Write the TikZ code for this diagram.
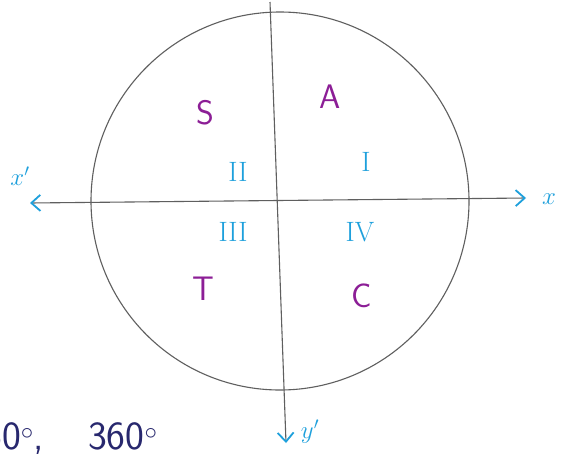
\documentclass[tikz,border=0pt]{standalone}
\usepackage{fontspec}
\usetikzlibrary{arrows.meta}
\definecolor{penblue}{RGB}{30,160,220}
\definecolor{penpurple}{RGB}{140,30,150}
\definecolor{pennavy}{RGB}{40,40,110}
\definecolor{pencil}{RGB}{95,95,95}
\tikzset{
  quad/.style={text=penblue, font=\fontsize{28}{30}\selectfont},
  sign/.style={text=penpurple, font=\sffamily\fontsize{34}{36}\selectfont},
  axlbl/.style={text=penblue, font=\fontsize{26}{28}\selectfont},
  penbarb/.tip={Straight Barb[color=penblue,length=9pt,width=16pt,line width=1.8pt]}
}
\begin{document}
\begin{tikzpicture}[x=1pt,y=-1pt]
\useasboundingbox (0,0) rectangle (569,463);
\clip (0,0) rectangle (569,463);
\fill [white] (0,0) rectangle (569,463);
% circle and axes
\coordinate (O) at (280,201);
\draw [pencil, line width=1.1pt] (O) circle [radius=189pt];
\coordinate (xl) at (30,203);
\coordinate (xr) at (526,198);
\coordinate (yt) at (270,2);
\coordinate (yb) at (286,443);
\draw [pencil, line width=1.1pt, penbarb-penbarb] (xl) -- (xr);
\draw [pencil, line width=1.1pt, -penbarb] (yt) -- (yb);
% axis labels
\node [axlbl] (xp) at (20,176) {$x'$};
\node [axlbl] (xx) at (549,199) {$x$};
\node [axlbl] (yp) at (310,432) {$y'$};
% quadrants
\node [quad] (q1) at (366,162) {I};
\node [quad] (q2) at (238,172) {II};
\node [quad] (q3) at (233,232) {III};
\node [quad] (q4) at (360,232) {IV};
\node [sign] (sA) at (330,97) {A};
\node [sign] (sS) at (205,113) {S};
\node [sign] (sT) at (203,289) {T};
\node [sign] (sC) at (362,296) {C};
% angles, cut at the left edge as in the scan
\node [text=pennavy, font=\sffamily\fontsize{40}{42}\selectfont, anchor=base west, inner sep=0pt] (ang) at (-17,449) {60$^\circ$,\hspace{44pt}360$^\circ$};
\end{tikzpicture}
\end{document}
